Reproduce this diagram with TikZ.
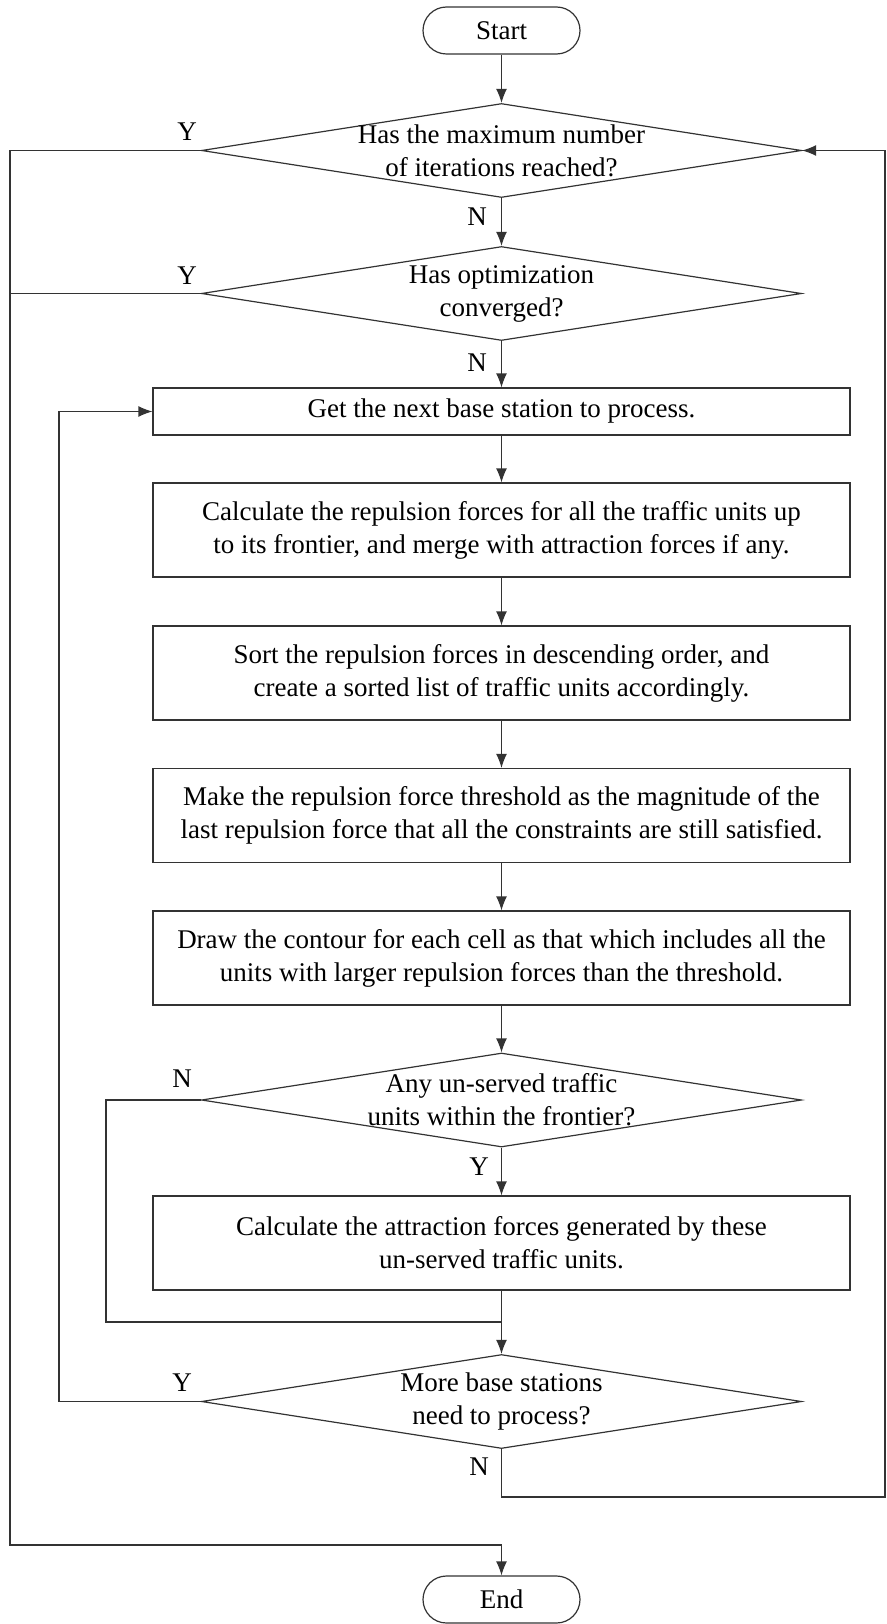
\documentclass[tikz,border=0pt]{standalone}
\usepackage{fontspec}
\setmainfont{Liberation Serif}
\usetikzlibrary{shapes.geometric,arrows.meta}
\begin{document}
\begin{tikzpicture}[x=1pt,y=-1pt,
  every node/.style={font=\fontsize{27}{33}\selectfont},
  line/.style={draw=black!80, line width=1.2pt},
  arrow/.style={line, -{Latex[length=14pt,width=11pt]}},
  process/.style={line, rectangle, minimum width=697pt, minimum height=94pt, inner sep=0pt, align=center},
  terminal/.style={line, rectangle, rounded corners=23.5pt, minimum width=157pt, minimum height=47pt, inner sep=0pt},
  decision/.style={line, diamond, minimum width=600pt, minimum height=94pt, inner sep=0pt},
  tag/.style={inner sep=0pt}
]
\useasboundingbox (0,0) rectangle (886,1624);

% main column
\node[terminal] (start) at (501.5,30.5) {Start};
\node[decision, label={[align=center]center:Has the maximum number\\of iterations reached?}] (d1) at (501.5,150.5) {};
\node[decision, label={[align=center]center:Has optimization\\converged?}] (d2) at (501.5,293.5) {};
\node[process, minimum height=47pt] (b1) at (501.5,411.5) {Get the next base station to process.};
\node[process] (b2) at (501.5,530) {Calculate the repulsion forces for all the traffic units up\\to its frontier, and merge with attraction forces if any.};
\node[process] (b3) at (501.5,673) {Sort the repulsion forces in descending order, and\\create a sorted list of traffic units accordingly.};
\node[process] (b4) at (501.5,815.5) {Make the repulsion force threshold as the magnitude of the\\last repulsion force that all the constraints are still satisfied.};
\node[process] (b5) at (501.5,958) {Draw the contour for each cell as that which includes all the\\units with larger repulsion forces than the threshold.};
\node[decision, label={[align=center]center:Any un-served traffic\\units within the frontier?}] (d3) at (501.5,1100) {};
\node[process] (b6) at (501.5,1243) {Calculate the attraction forces generated by these\\un-served traffic units.};
\node[decision, label={[align=center]center:More base stations\\need to process?}] (d4) at (501.5,1401.5) {};
\node[terminal] (stop) at (501.5,1599.5) {End};

% branch labels
\node[tag] (y1) at (187,132) {Y};
\node[tag] (n1) at (477,217) {N};
\node[tag] (y2) at (187,276) {Y};
\node[tag] (n2) at (477,363) {N};
\node[tag] (n3) at (182,1079) {N};
\node[tag] (y3) at (479,1167) {Y};
\node[tag] (y4) at (182,1383) {Y};
\node[tag] (n4) at (479,1467) {N};

% routing points
\coordinate (nloop) at (106,1322);
\coordinate (yloop) at (59,1401.5);
\coordinate (rbot) at (885,1497);
\coordinate (lbot) at (10,1545);

% straight flow
\draw[arrow] (start) -- (d1);
\draw[arrow] (d1) -- (d2);
\draw[arrow] (d2) -- (b1);
\draw[arrow] (b1) -- (b2);
\draw[arrow] (b2) -- (b3);
\draw[arrow] (b3) -- (b4);
\draw[arrow] (b4) -- (b5);
\draw[arrow] (b5) -- (d3);
\draw[arrow] (d3) -- (b6);
\draw[arrow] (b6) -- (d4);

% loops
\draw[line] (d3.west) -| (nloop) -- (b6.south |- nloop);
\draw[arrow] (d4.west) -- (yloop) |- (b1.west);
\draw[arrow] (d4.south) |- (rbot) |- (d1.east);
\draw[arrow] (d1.west) -| (lbot) -| (stop.north);
\draw[line] (d2.west) -- (d2.west -| lbot);
\end{tikzpicture}
\end{document}
